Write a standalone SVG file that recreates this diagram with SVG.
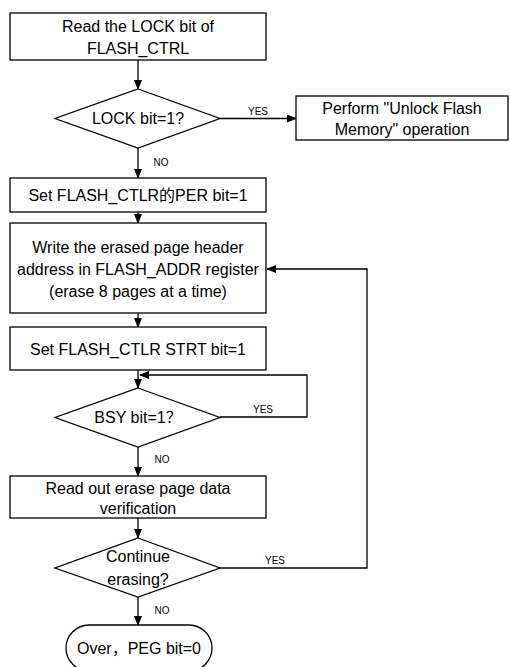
<svg xmlns="http://www.w3.org/2000/svg" width="510" height="667" viewBox="0 0 510 667">
<defs>
<marker id="arr" markerWidth="10" markerHeight="8" refX="9" refY="4" orient="auto" markerUnits="userSpaceOnUse">
<path d="M0,0 L10,4 L0,8 Z" fill="#000"/>
</marker>
<style>
.box{fill:#fff;stroke:#000;stroke-width:1.3}
.t{font-family:"Liberation Sans","Noto Sans CJK SC",Arial,sans-serif;font-size:16px;fill:#000;text-anchor:middle}
.s{font-family:"Liberation Sans",Arial,sans-serif;font-size:10px;fill:#000;text-anchor:middle}
.c{fill:none;stroke:#000;stroke-width:1.3}
</style>
</defs>
<rect width="510" height="667" fill="#fff"/>
<g id="connectors">
<line class="c" x1="138" y1="60" x2="138" y2="89" marker-end="url(#arr)"/>
<line class="c" x1="220" y1="118.5" x2="296" y2="118.5" marker-end="url(#arr)"/>
<text class="s" x="258" y="115">YES</text>
<line class="c" x1="138" y1="148" x2="138" y2="178" marker-end="url(#arr)"/>
<text class="s" x="161" y="166">NO</text>
<line class="c" x1="138" y1="212" x2="138" y2="223" marker-end="url(#arr)"/>
<line class="c" x1="138" y1="313" x2="138" y2="327" marker-end="url(#arr)"/>
<line class="c" x1="138" y1="370" x2="138" y2="388" marker-end="url(#arr)"/>
<polyline class="c" points="220,417 307,417 307,375 140,375" marker-end="url(#arr)"/>
<text class="s" x="263" y="413">YES</text>
<line class="c" x1="138" y1="447" x2="138" y2="476" marker-end="url(#arr)"/>
<text class="s" x="162" y="463">NO</text>
<line class="c" x1="138" y1="518" x2="138" y2="538" marker-end="url(#arr)"/>
<polyline class="c" points="220,568 367,568 367,269 267,269" marker-end="url(#arr)"/>
<text class="s" x="275" y="564">YES</text>
<line class="c" x1="138" y1="597" x2="138" y2="625" marker-end="url(#arr)"/>
<text class="s" x="162" y="614">NO</text>
</g>
<g id="n1">
<rect class="box" x="10" y="13" width="256" height="47"/>
<text class="t" x="138" y="32">Read the LOCK bit of</text>
<text class="t" x="138" y="54">FLASH_CTRL</text>
</g>
<g id="d1">
<polygon class="box" points="138,89 220,118.5 138,148 55,118.5"/>
<text class="t" x="138" y="124">LOCK bit=1?</text>
</g>
<g id="n_unlock">
<rect class="box" x="296" y="96" width="212" height="44"/>
<text class="t" x="402" y="114">Perform  "Unlock Flash</text>
<text class="t" x="402" y="135">Memory" operation</text>
</g>
<g id="n2">
<rect class="box" x="10" y="178" width="256" height="34"/>
<text class="t" x="138" y="201">Set FLASH_CTLR的PER bit=1</text>
</g>
<g id="n3">
<rect class="box" x="10" y="223" width="256" height="90"/>
<text class="t" x="138" y="253">Write the erased page header</text>
<text class="t" x="138" y="275">address in FLASH_ADDR register</text>
<text class="t" x="138" y="297">(erase 8 pages at a time)</text>
</g>
<g id="n4">
<rect class="box" x="10" y="327" width="256" height="43"/>
<text class="t" x="138" y="355">Set FLASH_CTLR STRT bit=1</text>
</g>
<g id="d2">
<polygon class="box" points="138,388 220,417.5 138,447 55,417.5"/>
<text class="t" x="138" y="423">BSY bit=1？</text>
</g>
<g id="n5">
<rect class="box" x="10" y="476" width="256" height="42"/>
<text class="t" x="138" y="494">Read out erase page data</text>
<text class="t" x="138" y="514">verification</text>
</g>
<g id="d3">
<polygon class="box" points="138,538 220,568 138,597 55,568"/>
<text class="t" x="138" y="562">Continue</text>
<text class="t" x="138" y="585">erasing?</text>
</g>
<g id="end">
<rect class="box" x="66" y="625" width="146" height="46" rx="23" ry="23"/>
<text class="t" x="139" y="654">Over，PEG bit=0</text>
</g>
</svg>
